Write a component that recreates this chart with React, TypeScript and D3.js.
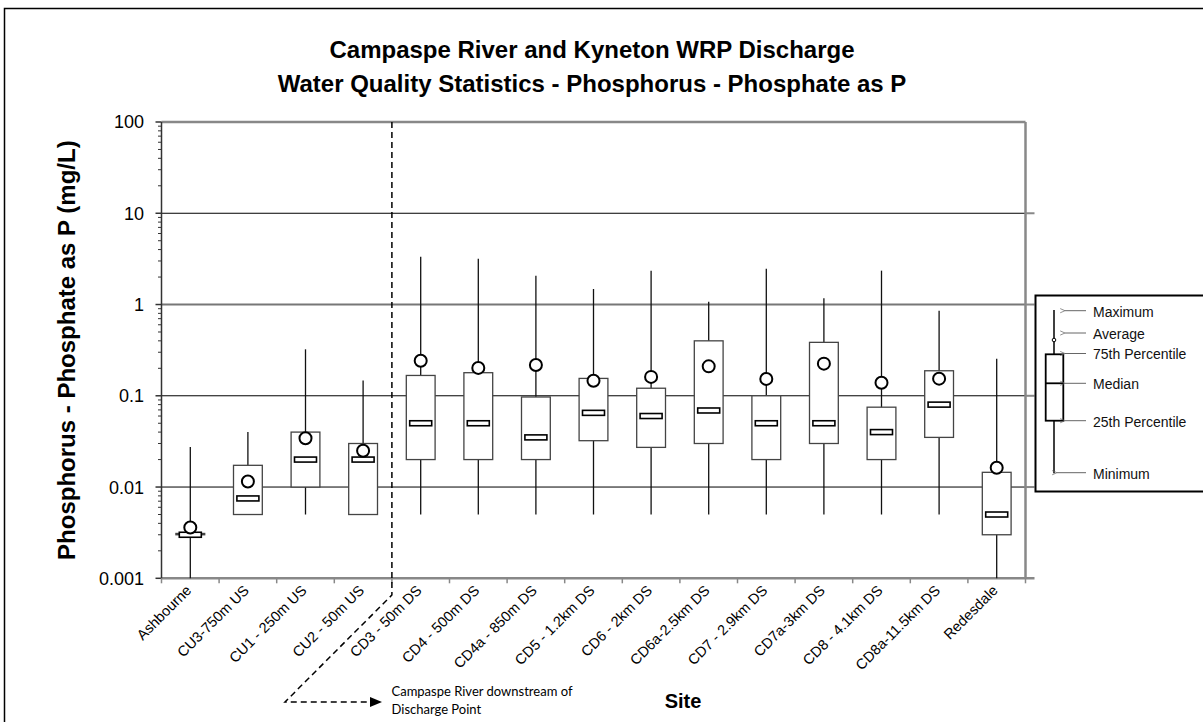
import * as d3 from 'd3';

const W = 1203;
const H = 722;

const sites = [
  'Ashbourne', 'CU3-750m US', 'CU1 - 250m US', 'CU2 - 50m US', 'CD3 - 50m DS',
  'CD4 - 500m DS', 'CD4a - 850m DS', 'CD5 - 1.2km DS', 'CD6 - 2km DS', 'CD6a-2.5km DS',
  'CD7 - 2.9km DS', 'CD7a-3km DS', 'CD8 - 4.1km DS', 'CD8a-11.5km DS', 'Redesdale',
];
const maxVals = [0.0275, 0.04, 0.323, 0.147, 3.34, 3.18, 2.07, 1.48, 2.35, 1.07, 2.47, 1.17, 2.35, 0.855, 0.255];
const avgVals = [0.0036, 0.0115, 0.0342, 0.025, 0.242, 0.202, 0.217, 0.146, 0.161, 0.21, 0.153, 0.225, 0.139, 0.154, 0.0163];
const q3Vals = [0.0031, 0.0173, 0.04, 0.03, 0.167, 0.179, 0.097, 0.155, 0.121, 0.4, 0.1, 0.385, 0.075, 0.188, 0.0145];
const medVals = [0.003, 0.0075, 0.02, 0.02, 0.05, 0.05, 0.035, 0.065, 0.06, 0.069, 0.05, 0.05, 0.04, 0.08, 0.005];
const q1Vals = [0.003, 0.005, 0.01, 0.005, 0.02, 0.02, 0.02, 0.0322, 0.0272, 0.03, 0.02, 0.03, 0.02, 0.035, 0.003];
const minVals = [0.001, 0.005, 0.005, 0.005, 0.005, 0.005, 0.005, 0.005, 0.005, 0.005, 0.005, 0.005, 0.005, 0.005, 0.001];
const yTickLabels = ['0.001', '0.01', '0.1', '1', '10', '100'];
const legendLabels = ['Maximum', 'Average', '75th Percentile', 'Median', '25th Percentile', 'Minimum'];

const left = 161.5;
const right = 1025.5;
const top = 122;
const bottom = 578.3;
const font = 'Arial, "Liberation Sans", sans-serif';

export default function App() {
  const x = d3.scaleBand(sites, [left, right]);
  const y = d3.scaleLog([0.001, 100], [bottom, top]);
  const boxW = x.bandwidth() * 0.5;
  const cx = (s: string) => (x(s) ?? 0) + x.bandwidth() / 2;
  const minor = y.ticks().filter((t) => !yTickLabels.includes(String(t)));
  const divider = x(sites[4]) ?? 0;

  // legend rows: y position of each arrow
  const legRows = [310.7, 333, 353.5, 383.3, 420.7, 472.7];

  return (
    <svg
      width={W}
      height={H}
      style={{ position: 'absolute', left: 0, top: 0, background: '#fff' }}
      fontFamily={font}
    >
      <defs>
        <marker id="ah" viewBox="0 0 10 10" refX="9" refY="5" markerWidth="7" markerHeight="7" orient="auto">
          <path d="M 0 1 L 10 5 L 0 9 z" fill="#000" />
        </marker>
        <marker id="open" viewBox="0 0 10 10" refX="1" refY="5" markerWidth="6" markerHeight="6" orient="auto">
          <path d="M 9 1.5 L 1 5 L 9 8.5" fill="none" stroke="#666" strokeWidth={1.2} />
        </marker>
      </defs>

      {/* outer frame */}
      <rect x={4.5} y={8.5} width={W + 20} height={H + 20} fill="none" stroke="#000" strokeWidth={1.5} />

      {/* title */}
      <text x={592} y={58} textAnchor="middle" fontSize={24} fontWeight="bold">
        Campaspe River and Kyneton WRP Discharge
      </text>
      <text x={592} y={92} textAnchor="middle" fontSize={24} fontWeight="bold">
        Water Quality Statistics - Phosphorus - Phosphate as P
      </text>

      {/* grid */}
      {yTickLabels.slice(1, 5).map((t) => (
        <g key={t}>
          <line
            x1={left}
            x2={right}
            y1={y(+t)}
            y2={y(+t)}
            stroke={t === '1' ? '#777' : '#000'}
            strokeWidth={t === '1' ? 2 : 1}
          />
          <line x1={right} x2={right + 9} y1={y(+t)} y2={y(+t)} stroke="#888" strokeWidth={2} />
        </g>
      ))}

      {/* frame of plot */}
      <line x1={left} x2={right} y1={top} y2={top} stroke="#888" strokeWidth={2.5} />
      <line x1={right} x2={right} y1={top} y2={bottom} stroke="#888" strokeWidth={2.5} />
      <line x1={left} x2={right + 9} y1={bottom} y2={bottom} stroke="#888" strokeWidth={2.5} />
      <line x1={left} x2={left} y1={top} y2={bottom} stroke="#333" strokeWidth={1.5} />

      {/* y ticks */}
      {minor.map((t, i) => (
        <line key={i} x1={left - 3.5} x2={left} y1={y(t)} y2={y(t)} stroke="#333" strokeWidth={1} />
      ))}
      {yTickLabels.map((t) => (
        <g key={t}>
          <line x1={left - 6} x2={left} y1={y(+t)} y2={y(+t)} stroke="#333" strokeWidth={1.5} />
          <text x={144} y={y(+t)} dy="0.36em" textAnchor="end" fontSize={18}>
            {t}
          </text>
        </g>
      ))}

      {/* x ticks */}
      {[...sites.map((s) => x(s) ?? 0), right].map((v, i) => (
        <line key={i} x1={v} x2={v} y1={bottom} y2={bottom + 5} stroke="#888" strokeWidth={1.5} />
      ))}
      {sites.map((s) => (
        <text
          key={s}
          transform={`translate(${cx(s) + 2},${bottom + 13}) rotate(-45)`}
          textAnchor="end"
          fontSize={14.5}
        >
          {s}
        </text>
      ))}

      {/* boxes */}
      {sites.map((s, i) => {
        const c = cx(s);
        return (
          <g key={s}>
            <line x1={c} x2={c} y1={y(maxVals[i])} y2={y(minVals[i])} stroke="#111" strokeWidth={1.3} />
            <rect
              x={c - boxW / 2}
              y={y(q3Vals[i])}
              width={boxW}
              height={y(q1Vals[i]) - y(q3Vals[i])}
              fill="#fff"
              stroke="#444"
              strokeWidth={1.3}
            />
            <rect x={c - 11} y={y(medVals[i]) - 2.5} width={22} height={5} fill="#fff" stroke="#000" strokeWidth={1.6} />
            <circle cx={c} cy={y(avgVals[i])} r={6} fill="#fff" stroke="#000" strokeWidth={2} />
          </g>
        );
      })}

      {/* discharge divider */}
      <path
        d={`M ${divider} ${top} L ${divider} 595 L 285 702 L 372 702`}
        fill="none"
        stroke="#000"
        strokeWidth={1.5}
        strokeDasharray="6,4"
      />
      <path d="M 370 697 L 382 702 L 370 707 z" fill="#000" />
      <text x={391.5} y={696} fontSize={13} fontFamily="Lato, 'Open Sans', sans-serif">
        Campaspe River downstream of
      </text>
      <text x={391.5} y={714} fontSize={13} fontFamily="Lato, 'Open Sans', sans-serif">
        Discharge Point
      </text>

      {/* axis titles */}
      <text x={683} y={708} textAnchor="middle" fontSize={20} fontWeight="bold">
        Site
      </text>
      <text
        transform={`translate(75,${(top + bottom) / 2}) rotate(-90)`}
        textAnchor="middle"
        fontSize={24}
        fontWeight="bold"
      >
        Phosphorus - Phosphate as P (mg/L)
      </text>

      {/* legend */}
      <rect x={1035.5} y={295.5} width={200} height={196} fill="#fff" stroke="#000" strokeWidth={2} />
      <line x1={1054} x2={1054} y1={310} y2={473.3} stroke="#000" strokeWidth={1.5} />
      <rect x={1045.7} y={354.3} width={17.6} height={66.4} fill="#fff" stroke="#000" strokeWidth={1.8} />
      <line x1={1045.7} x2={1063.3} y1={383.3} y2={383.3} stroke="#000" strokeWidth={1.8} />
      <circle cx={1054} cy={340} r={1.8} fill="#fff" stroke="#000" strokeWidth={1} />
      {legendLabels.map((l, i) => (
        <g key={l}>
          <line
            x1={1086}
            x2={i === 5 ? 1057 : 1065}
            y1={legRows[i]}
            y2={legRows[i]}
            stroke="#666"
            strokeWidth={1}
            markerEnd="url(#open)"
          />
          <text x={1093} y={legRows[i] + 1} dy="0.35em" fontSize={14} fill="#111">
            {l}
          </text>
        </g>
      ))}
    </svg>
  );
}
